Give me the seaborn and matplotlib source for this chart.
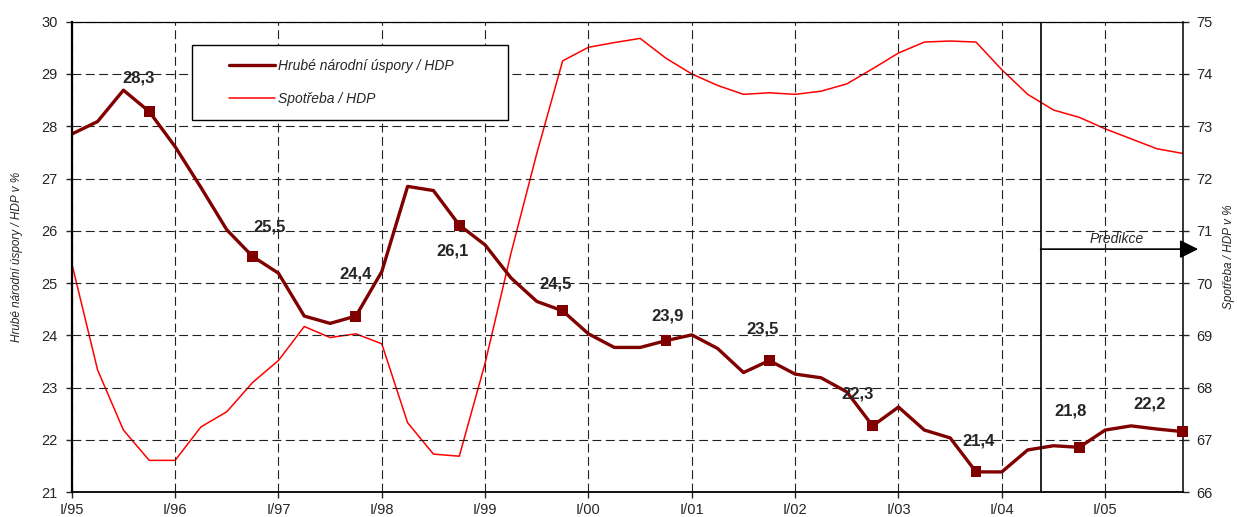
"""Hrubé národní úspory vs. spotřeba (podíl na HDP), čtvrtletně 1995-2005."""

import matplotlib
matplotlib.use("Agg")
import matplotlib.pyplot as plt
from matplotlib.patches import Rectangle
import seaborn as sns
import pandas as pd

# --- data ---
years = [str(y)[-2:] for y in range(1995, 2006)]
quarter_names = ["I", "II", "III", "IV"]
quarters = [f"{q}/{y}" for y in years for q in quarter_names]
tick_labels = [f"I/{y}" for y in years]

savings = [27.85, 28.09, 28.69, 28.28, 27.61, 26.83, 26.02, 25.51,
           25.19, 24.37, 24.23, 24.37, 25.22, 26.85, 26.77, 26.11,
           25.73, 25.10, 24.65, 24.47, 24.03, 23.77, 23.77, 23.90,
           24.01, 23.75, 23.29, 23.52, 23.26, 23.19, 22.92, 22.27,
           22.63, 22.19, 22.04, 21.39, 21.39, 21.81, 21.89, 21.86,
           22.19, 22.27, 22.21, 22.16]
consumption = [70.38, 68.34, 67.19, 66.61, 66.61, 67.25, 67.54, 68.10,
               68.52, 69.17, 68.96, 69.03, 68.84, 67.33, 66.73, 66.69,
               68.47, 70.57, 72.48, 74.25, 74.51, 74.60, 74.68, 74.30,
               74.00, 73.78, 73.61, 73.64, 73.61, 73.67, 73.81, 74.10,
               74.40, 74.61, 74.63, 74.61, 74.08, 73.61, 73.31, 73.17,
               72.95, 72.76, 72.57, 72.48]
annual_savings = [28.3, 25.5, 24.4, 26.1, 24.5, 23.9, 23.5, 22.3, 21.4, 21.8, 22.2]

forecast_start = 37.5  # between II/04 and III/04

# label offsets in points (layout only)
label_offsets = [(-8, 24), (12, 21), (0, 30), (-5, -19), (-5, 19), (1, 18),
                 (-5, 23), (-11, 23), (2, 22), (-6, 26), (-24, 20)]

df = pd.DataFrame({"t": range(len(quarters)), "quarter": quarters,
                   "savings": savings, "consumption": consumption})
year_end = df.iloc[3::4]

sns.set_style("white")
plt.rcParams["font.family"] = ["Liberation Sans", "DejaVu Sans"]

dark_red = "#800000"
red = "#ff0000"

fig = plt.figure(figsize=(12.37, 5.17), dpi=100)
ax = fig.add_axes([0.058, 0.0478, 0.8981, 0.9103])
ax2 = ax.twinx()

sns.lineplot(data=df, x="t", y="consumption", ax=ax2, color=red, lw=1.1, legend=False)
sns.lineplot(data=df, x="t", y="savings", ax=ax, color=dark_red, lw=2.4, legend=False)
sns.scatterplot(data=year_end, x="t", y="savings", ax=ax, marker="s", s=62,
                color=dark_red, edgecolor="none", zorder=5, legend=False, clip_on=False)

ax.set_zorder(ax2.get_zorder() + 1)
ax.patch.set_visible(False)

ax.set_xlim(0, len(quarters) - 1)
ax.set_ylim(21, 30)
ax2.set_ylim(66, 75)
ax.set_xticks(range(0, len(quarters), 4))
ax.set_xticklabels(tick_labels)
ax.set_yticks(range(21, 31))
ax2.set_yticks(range(66, 76))

ax.grid(True, color="#222222", linestyle=(0, (8, 4)), lw=0.8)
ax.tick_params(axis="x", direction="out", length=4.5, width=1, labelsize=10.5, pad=3, bottom=True)
ax.tick_params(axis="y", direction="out", length=4, width=1, labelsize=10.5, pad=6, left=True)
ax2.tick_params(axis="y", direction="out", length=4, width=1, labelsize=10.5, pad=6, right=True)

for side, lw in [("left", 1.6), ("bottom", 1.3), ("right", 1.1), ("top", 0.9)]:
    ax.spines[side].set_visible(True)
    ax.spines[side].set_linewidth(lw)
    ax.spines[side].set_color("black")
for s in ax2.spines.values():
    s.set_visible(False)

ax.set_xlabel("")
ax.set_ylabel("Hrubé národní úspory / HDP v %", fontsize=8.5, style="italic")
ax.yaxis.set_label_coords(-0.0435, 0.5)
ax2.set_ylabel("Spotřeba / HDP v %", fontsize=8.5, style="italic")
ax2.yaxis.set_label_coords(1.036, 0.5)

# annual averages at year-end markers
for (t, y), val, (dx, dy) in zip(year_end[["t", "savings"]].values, annual_savings, label_offsets):
    ax.annotate(f"{val:.1f}".replace(".", ","), (t, y), xytext=(dx, dy),
                textcoords="offset points", ha="center", va="center",
                fontsize=12, fontweight="bold", zorder=6)

# forecast marker
ax.axvline(forecast_start, color="black", lw=1.2, zorder=4)
arrow_y = 25.65
ax.annotate("", xy=(len(quarters) - 0.4, arrow_y), xytext=(forecast_start, arrow_y),
            arrowprops=dict(arrowstyle="-|>,head_length=0.8,head_width=0.4", color="black",
                            lw=1.2, mutation_scale=14, shrinkA=0, shrinkB=0),
            annotation_clip=False, zorder=4)
ax.annotate("Predikce", ((forecast_start + len(quarters) - 1) / 2 + 0.2, arrow_y),
            xytext=(0, 7.5), textcoords="offset points", ha="center", va="center",
            fontsize=10, style="italic")

# legend with its own white box
ax.add_patch(Rectangle((0.108, 0.791), 0.285, 0.16, transform=ax.transAxes,
                       facecolor="white", edgecolor="black", lw=1, zorder=3))
handles = [ax.lines[0], ax2.lines[0]]
leg = ax.legend(handles, ["Hrubé národní úspory / HDP", "Spotřeba / HDP"],
                loc="center left", bbox_to_anchor=(0.1355, 0.871), frameon=False,
                prop={"style": "italic", "size": 10}, handlelength=3.3,
                handletextpad=0.2, labelspacing=1.4, borderpad=0)
leg.set_zorder(4)

fig.savefig("out.png", dpi=100)
plt.close(fig)
